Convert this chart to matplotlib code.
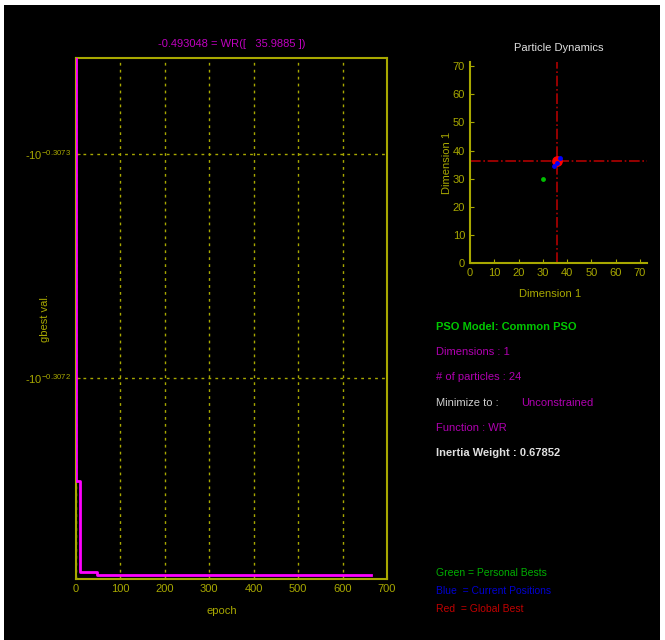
import matplotlib
matplotlib.use('Agg')
import matplotlib.pyplot as plt
from matplotlib.patches import Rectangle

plt.rcParams['font.family'] = ['Liberation Sans Narrow', 'Liberation Sans', 'DejaVu Sans']

# convergence history: epoch where gbest changes, log10(|gbest|)
epochs = [0, 1, 9, 47, 664]
log_gbest = [-0.30740, -0.307154, -0.307113, -0.307112, -0.307112]
ytick_vals = [-0.3073, -0.3072]
xtick_vals = [0, 100, 200, 300, 400, 500, 600, 700]

# particle dynamics (dimension 1 plotted on both axes)
gbest_pos = 35.9885
pbest_x = [29.9]
pbest_y = [29.8]
cur_x = [36.9, 34.4, 36.0]
cur_y = [37.4, 34.5, 35.6]
dyn_ticks = [0, 10, 20, 30, 40, 50, 60, 70]

info_lines = [
    ("PSO Model: Common PSO", '#00c800'),
    ("Dimensions : 1", '#b000b0'),
    ("# of particles : 24", '#b000b0'),
    ("Minimize to :", '#d0d0d0'),
    ("Function : WR", '#b000b0'),
    ("Inertia Weight : 0.67852", '#e0e0e0'),
]
legend_lines = [
    ("Green = Personal Bests", '#00b000'),
    ("Blue  = Current Positions", '#0000d0'),
    ("Red  = Global Best", '#c00000'),
]

olive = '#a8a800'
fig = plt.figure(figsize=(6.65, 6.4), dpi=100, facecolor='white')
fig.patches.append(Rectangle((4 / 665, 0), 656 / 665, 635 / 640, transform=fig.transFigure,
                             facecolor='black', edgecolor='none', zorder=-5))

# main convergence plot
ax = fig.add_axes([76 / 665, 1 - 579 / 640, 311 / 665, 521 / 640])
ax.set_facecolor('black')
ax.plot(epochs, log_gbest, color='#ff00ff', lw=2, drawstyle='steps-post', zorder=3)
ax.set_xlim(0, 700)
ax.set_ylim(-0.307110, -0.307343)
ax.set_xticks(xtick_vals)
ax.set_yticks(ytick_vals)
ax.set_yticklabels([r'-10$^{\mathregular{%s}}$' % v for v in ytick_vals])
ax.grid(True, color=olive, linestyle=(0, (2, 3)), lw=1)
for s in ax.spines.values():
    s.set_color(olive)
    s.set_linewidth(1.5)
ax.tick_params(colors=olive, labelsize=8, length=3, direction='in')
ax.set_xlabel('epoch', color=olive, fontsize=8)
ax.xaxis.set_label_coords(0.47, -0.052)
ax.set_ylabel('gbest val.', color=olive, fontsize=8)
ax.yaxis.set_label_coords(-0.085, 0.5)
ax.set_title('-0.493048 = WR([   35.9885 ])', color='#c000c0', fontsize=8, pad=8)

# particle dynamics plot
ax2 = fig.add_axes([470 / 665, 1 - 263 / 640, 177 / 665, 201 / 640])
ax2.set_facecolor('black')
ax2.axvline(gbest_pos, color='#b00000', lw=1.2, linestyle='-.')
ax2.axhline(gbest_pos + 0.3, color='#b00000', lw=1.2, linestyle='-.')
ax2.scatter(pbest_x, pbest_y, s=6, color='#00c000', zorder=3)
ax2.scatter(cur_x, cur_y, s=6, color='#0000ff', zorder=3)
ax2.scatter([gbest_pos], [gbest_pos + 0.3], s=45, color='#ff0000', zorder=2)
ax2.set_xlim(0, 72.9)
ax2.set_ylim(0, 71.5)
ax2.set_xticks(dyn_ticks)
ax2.set_yticks(dyn_ticks)
ax2.spines['top'].set_visible(False)
ax2.spines['right'].set_visible(False)
for s in ['left', 'bottom']:
    ax2.spines[s].set_color(olive)
    ax2.spines[s].set_linewidth(1.5)
ax2.tick_params(colors=olive, labelsize=8, length=3, direction='in')
ax2.set_xlabel('Dimension 1', color=olive, fontsize=8)
ax2.xaxis.set_label_coords(0.45, -0.13)
ax2.set_ylabel('Dimension 1', color=olive, fontsize=8)
ax2.yaxis.set_label_coords(-0.1, 0.5)
ax2.set_title('Particle Dynamics', color='#e0e0e0', fontsize=8, pad=8)

# info text
for i, (txt, col) in enumerate(info_lines):
    fig.text(436 / 665, 1 - (327 + 25.2 * i) / 640, txt, color=col, fontsize=8, va='center',
             fontweight='bold' if i in (0, 5) else 'normal')
fig.text(521 / 665, 1 - 402.6 / 640, 'Unconstrained', color='#b000b0', fontsize=8, va='center')
for i, (txt, col) in enumerate(legend_lines):
    fig.text(436 / 665, 1 - (573 + 18 * i) / 640, txt, color=col, fontsize=7.5, va='center')

fig.savefig('out.png', dpi=100, facecolor='white')
